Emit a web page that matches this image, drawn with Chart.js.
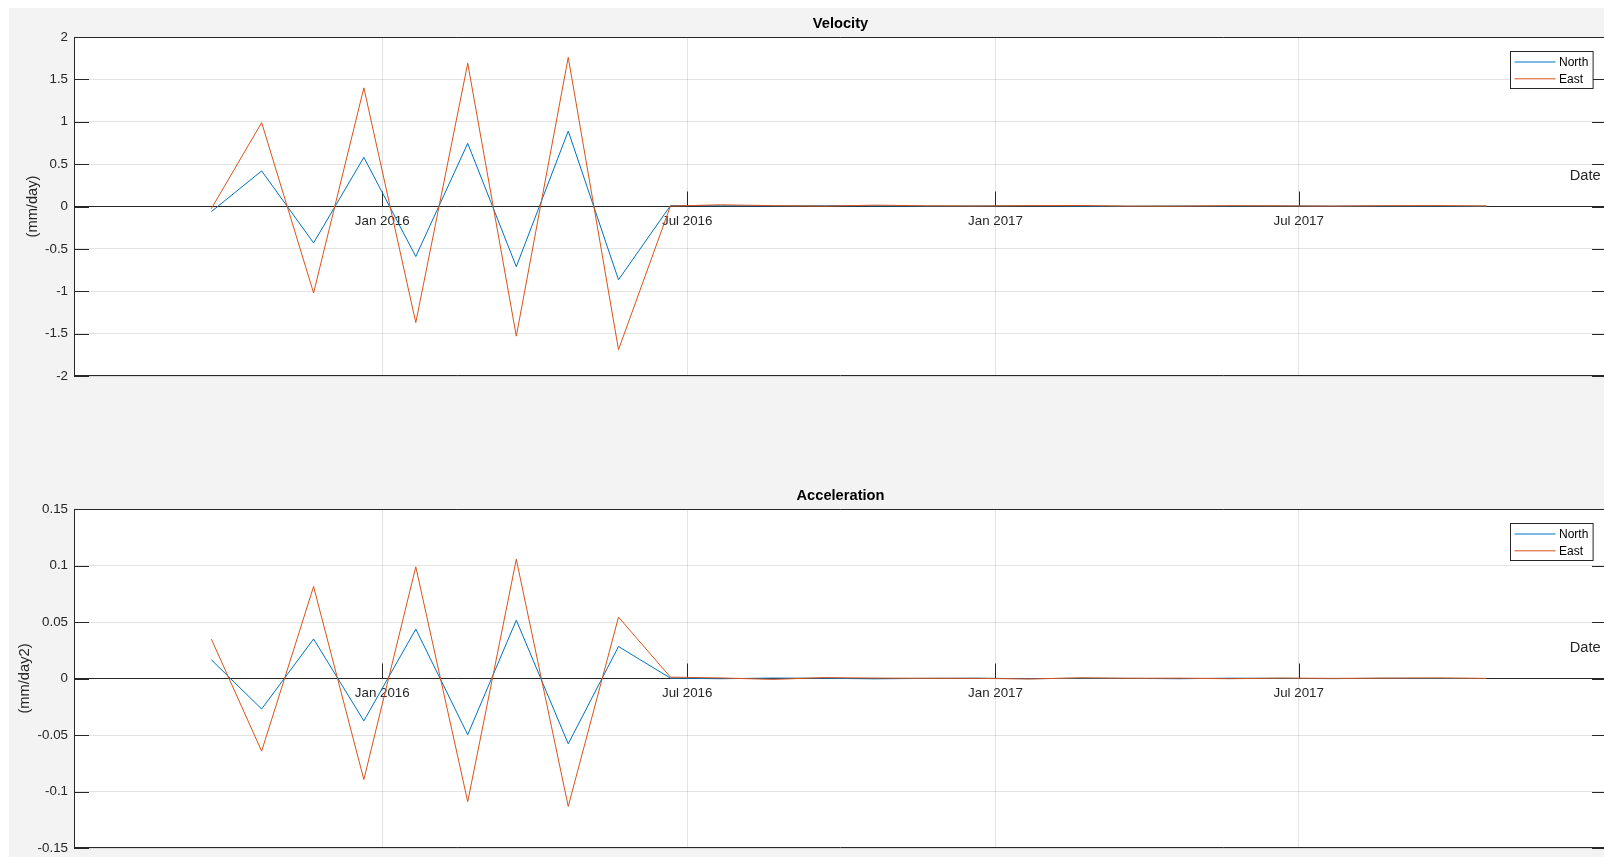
<!DOCTYPE html>
<html>
<head>
<meta charset="utf-8">
<title>Velocity and Acceleration</title>
<script src="https://cdn.jsdelivr.net/npm/chart.js@4.4.1/dist/chart.umd.min.js"></script>
<style>
  html, body { margin: 0; padding: 0; background: #fff; overflow: hidden; width: 1604px; height: 857px; }
  #figure { position: absolute; left: 9px; top: 8px; right: 0; bottom: 0; background: #f3f3f3; }
  canvas { position: absolute; left: 0; }
  #velocityChart { top: 0; }
  #accelerationChart { top: 472px; }
</style>
</head>
<body>
<div id="figure"></div>
<canvas id="velocityChart" width="1640" height="396"></canvas>
<canvas id="accelerationChart" width="1640" height="396"></canvas>
<script>
// monthly samples
const dates = [
    '2015-09-21', '2015-10-21', '2015-11-21', '2015-12-21', '2016-01-21', '2016-02-21',
    '2016-03-21', '2016-04-21', '2016-05-21', '2016-06-21', '2016-07-21', '2016-08-21',
    '2016-09-21', '2016-10-21', '2016-11-21', '2016-12-21', '2017-01-21', '2017-02-21',
    '2017-03-21', '2017-04-21', '2017-05-21', '2017-06-21', '2017-07-21', '2017-08-21',
    '2017-09-21', '2017-10-21'
];

const velocityNorth = [-0.06, 0.42, -0.43, 0.58, -0.59, 0.745, -0.71, 0.89, -0.865, 0.01,
    0.008, 0.006, 0.009, 0.007, 0.005, 0.006, 0.008, 0.004, 0.003, 0.006, 0.005, 0.007, 0.004, 0.006, 0.005, 0.004];
const velocityEast = [-0.025, 0.99, -1.02, 1.40, -1.37, 1.69, -1.53, 1.76, -1.69, 0.005,
    0.02, 0.01, 0.004, 0.016, 0.008, 0.006, 0.01, 0.012, 0.005, 0.004, 0.01, 0.007, 0.005, 0.009, 0.011, 0.006];

const accelNorth = [0.0165, -0.027, 0.035, -0.0375, 0.0437, -0.0497, 0.0516, -0.0578, 0.0283, 0.0003,
    -0.0002, 0.0004, 0.0002, -0.0003, 0.0001, 0.0003, -0.0002, 0.0002, 0.0001, -0.0002, 0.0003, 0.0001, -0.0001, 0.0002, 0.0001, 0.0];
const accelEast = [0.0348, -0.0643, 0.0814, -0.0894, 0.0988, -0.109, 0.1055, -0.1132, 0.0543, 0.0012,
    0.0005, -0.0008, 0.0008, 0.0004, 0.0002, 0.0001, -0.0004, 0.0006, 0.0002, 0.0003, -0.0002, 0.0004, 0.0001, 0.0003, 0.0005, 0.0001];

const xStart = '2015-07-01';
const xEnd = '2018-01-01';
const xTickDates = ['2016-01-01', '2016-07-01', '2017-01-01', '2017-07-01'];
const xTickLabels = ['Jan 2016', 'Jul 2016', 'Jan 2017', 'Jul 2017'];

const velocityTicks = [-2, -1.5, -1, -0.5, 0, 0.5, 1, 1.5, 2];
const accelTicks = [-0.15, -0.1, -0.05, 0, 0.05, 0.1, 0.15];

const axisColor = '#262626';
const gridColor = 'rgba(38, 38, 38, 0.13)';

Chart.defaults.font.family = '"Liberation Sans", Arial, Helvetica, sans-serif';

// white plot box, outer frame, inward tick marks, legend and the x label
const matlabAxes = {
    id: 'matlabAxes',
    beforeDraw(chart) {
        const { ctx, chartArea: a } = chart;
        ctx.save();
        ctx.fillStyle = '#ffffff';
        ctx.fillRect(a.left, a.top, a.right - a.left, a.bottom - a.top);
        ctx.restore();
    },
    beforeDatasetsDraw(chart) {
        const { ctx, chartArea: a, scales } = chart;
        const tickLen = 15;
        const zero = scales.y.getPixelForValue(0);
        ctx.save();
        ctx.strokeStyle = axisColor;
        ctx.lineWidth = 1;
        ctx.beginPath();
        ctx.moveTo(a.left, Math.round(a.top) + 0.5);
        ctx.lineTo(a.right, Math.round(a.top) + 0.5);
        ctx.moveTo(a.left, Math.round(a.bottom) - 0.5);
        ctx.lineTo(a.right, Math.round(a.bottom) - 0.5);
        scales.y.ticks.forEach(t => {
            const py = Math.round(scales.y.getPixelForValue(t.value)) + 0.5;
            ctx.moveTo(a.left, py);
            ctx.lineTo(a.left + tickLen, py);
            ctx.moveTo(a.right - tickLen, py);
            ctx.lineTo(a.right, py);
        });
        scales.x.ticks.forEach(t => {
            const px = Math.round(scales.x.getPixelForValue(t.value)) + 0.5;
            ctx.moveTo(px, zero);
            ctx.lineTo(px, zero - tickLen);
        });
        ctx.stroke();
        ctx.restore();
    },
    afterDraw(chart, args, opts) {
        const { ctx, chartArea: a, scales } = chart;
        const zero = scales.y.getPixelForValue(0);
        ctx.save();

        // x axis label sits above the axis line at the right end
        ctx.fillStyle = axisColor;
        ctx.font = '14.67px ' + Chart.defaults.font.family;
        ctx.textAlign = 'right';
        ctx.textBaseline = 'middle';
        ctx.fillText(opts.xLabel, a.right - 6.3, zero - 30.3);

        // legend box, top right inside the axes
        const boxW = 82.6, boxH = 37;
        const bx = Math.round(a.right - 14.7 - boxW) + 0.5;
        const by = Math.round(a.top + 13.7) + 0.5;
        ctx.fillStyle = '#ffffff';
        ctx.fillRect(bx, by, boxW, boxH);
        ctx.strokeStyle = axisColor;
        ctx.lineWidth = 1;
        ctx.strokeRect(bx, by, boxW, boxH);
        ctx.font = '12px ' + Chart.defaults.font.family;
        ctx.textAlign = 'left';
        chart.data.datasets.forEach((ds, i) => {
            const ly = by + 10.5 + i * 16.8;
            ctx.strokeStyle = ds.borderColor;
            ctx.beginPath();
            ctx.moveTo(bx + 4, ly);
            ctx.lineTo(bx + 45, ly);
            ctx.stroke();
            ctx.fillStyle = '#000000';
            ctx.fillText(ds.label, bx + 48.5, ly + 0.5);
        });
        ctx.restore();
    }
};

function buildChart(canvasId, cfg) {
    const toPoints = (values) => dates.map((d, i) => ({ x: Date.parse(d), y: values[i] }));
    return new Chart(document.getElementById(canvasId), {
        type: 'line',
        data: {
            datasets: [
                { label: 'North', data: toPoints(cfg.north), borderColor: '#0072BD', borderWidth: 1, pointRadius: 0, tension: 0, order: 1 },
                { label: 'East', data: toPoints(cfg.east), borderColor: '#D95319', borderWidth: 1, pointRadius: 0, tension: 0, order: 0 }
            ]
        },
        options: {
            responsive: false,
            animation: false,
            devicePixelRatio: 1,
            layout: { padding: { left: 0, top: 0, right: 33, bottom: 20 } },
            scales: {
                x: {
                    type: 'linear',
                    position: { y: 0 },
                    min: Date.parse(xStart),
                    max: Date.parse(xEnd),
                    afterBuildTicks: (scale) => {
                        scale.ticks = xTickDates.map(d => ({ value: Date.parse(d) }));
                    },
                    ticks: {
                        callback: (value, index) => xTickLabels[index],
                        padding: 7,
                        color: axisColor,
                        font: { size: 13.33 },
                        maxRotation: 0,
                        autoSkip: false
                    },
                    grid: { color: gridColor, drawTicks: false },
                    border: { color: axisColor, width: 1 }
                },
                y: {
                    type: 'linear',
                    min: cfg.yTicks[0],
                    max: cfg.yTicks[cfg.yTicks.length - 1],
                    afterBuildTicks: (scale) => {
                        scale.ticks = cfg.yTicks.map(v => ({ value: v }));
                    },
                    afterFit: (scale) => { scale.width = 74; },
                    ticks: {
                        callback: (value) => String(value),
                        padding: 6,
                        color: axisColor,
                        font: { size: 13.33 }
                    },
                    grid: { color: gridColor, drawTicks: false },
                    border: { color: axisColor, width: 1 },
                    title: {
                        display: true,
                        text: cfg.yLabel,
                        color: axisColor,
                        font: { size: 14.67 },
                        padding: { top: cfg.yTitlePad, bottom: 0 }
                    }
                }
            },
            plugins: {
                legend: { display: false },
                tooltip: { enabled: false },
                title: {
                    display: true,
                    text: cfg.title,
                    fullSize: false,
                    color: '#000000',
                    font: { size: 14.67, weight: 'bold' },
                    padding: { top: 15.2, bottom: 4.2 }
                },
                matlabAxes: { xLabel: 'Date' }
            }
        },
        plugins: [matlabAxes]
    });
}

window.addEventListener('load', () => {
    buildChart('velocityChart', {
        title: 'Velocity',
        yLabel: '(mm/day)',
        yTitlePad: 24.2,
        yTicks: velocityTicks,
        north: velocityNorth,
        east: velocityEast
    });
    buildChart('accelerationChart', {
        title: 'Acceleration',
        yLabel: '(mm/day2)',
        yTitlePad: 16.2,
        yTicks: accelTicks,
        north: accelNorth,
        east: accelEast
    });
});
</script>
</body>
</html>
